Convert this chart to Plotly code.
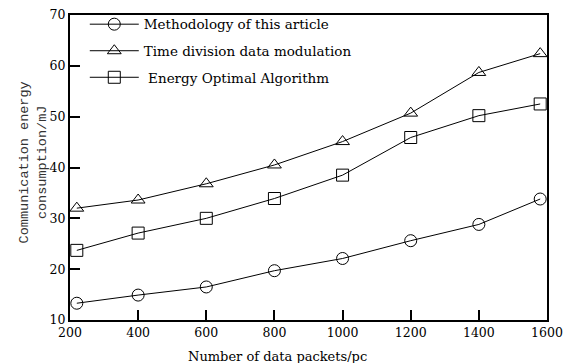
import plotly.graph_objects as go

packets = [220, 400, 600, 800, 1000, 1200, 1400, 1580]
method_this = [13.3, 14.9, 16.5, 19.7, 22.1, 25.6, 28.8, 33.8]
time_division = [32.0, 33.6, 36.8, 40.5, 45.1, 50.7, 58.7, 62.4]
energy_optimal = [23.7, 27.1, 30.0, 33.9, 38.5, 45.9, 50.2, 52.5]

names = ["Methodology of this article", "Time division data modulation", " Energy Optimal Algorithm"]
symbols = ["circle-open", "triangle-up-open", "square-open"]
series = [method_this, time_division, energy_optimal]

x_ticks = [200, 400, 600, 800, 1000, 1200, 1400, 1600]
y_ticks = [10, 20, 30, 40, 50, 60, 70]

fig = go.Figure()
for i, (name, sym, vals) in enumerate(zip(names, symbols, series)):
    fig.add_trace(go.Scatter(
        x=packets, y=vals, name=name, mode="lines+markers", legendgroup=f"g{i}",
        line=dict(color="black", width=1),
        marker=dict(symbol=sym, size=12, color="black", line=dict(width=1, color="black")),
        cliponaxis=False,
    ))

serif = "DejaVu Serif"
axis_common = dict(
    showline=True, linewidth=2, linecolor="black", mirror=True,
    ticks="inside", ticklen=10, tickwidth=2, tickcolor="black",
    showgrid=False, zeroline=False, ticklabeloverflow="allow",
    tickfont=dict(family=serif, size=12.5, color="black"),
)
fig.update_xaxes(range=[200, 1600], tickvals=x_ticks, **axis_common)
fig.update_yaxes(range=[10, 70], tickvals=y_ticks, **axis_common)

fig.add_annotation(
    xref="paper", yref="paper", x=(281 - 70) / 485, y=-0.09, yanchor="top",
    text="Number of data packets/pc", showarrow=False,
    font=dict(family=serif, size=13, color="black"),
)
fig.add_annotation(
    xref="paper", yref="paper", x=-0.076, xanchor="center", y=0.5 + 5 / 313, yanchor="middle",
    text="Communication energy<br>consumption/mJ", showarrow=False, textangle=-90,
    font=dict(family="Liberation Mono", size=13.5, color="#333"),
)

fig.update_layout(
    width=570, height=363,
    margin=dict(l=70, r=15, t=7, b=43),
    paper_bgcolor="white", plot_bgcolor="white",
    showlegend=True,
    legend=dict(
        x=0.031, y=1.02, xanchor="left", yanchor="top",
        bgcolor="rgba(0,0,0,0)", borderwidth=0,
        font=dict(family=serif, size=13.5, color="black"),
        itemwidth=49, traceorder="grouped", tracegroupgap=6,
    ),
)

fig.write_html("out.html")
